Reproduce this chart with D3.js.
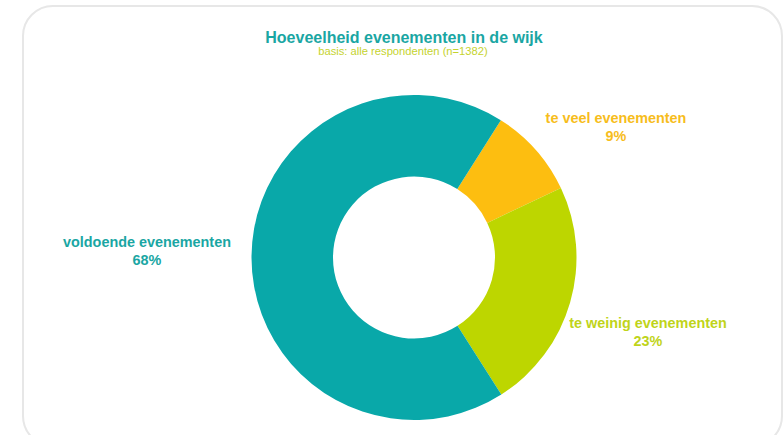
<!DOCTYPE html>
<html>
<head>
<meta charset="utf-8">
<script src="https://cdn.jsdelivr.net/npm/d3@7"></script>
<style>
  html, body { margin: 0; padding: 0; background: #fff; }
  svg { display: block; font-family: "Liberation Sans", Arial, sans-serif; }
</style>
</head>
<body>
<div class="container"></div>
<script>
// DATA
const categories = ["te veel evenementen", "te weinig evenementen", "voldoende evenementen"];
const values = [9, 23, 68];
const colors = ["#fdbe10", "#bdd600", "#09a8a9"];
const textColors = ["#f7bd1c", "#bfd41a", "#1aa6a3"];
// label anchor (centre of label block) per slice
const labelPos = [[616, 123], [648, 328], [147, 247]];

const title = "Hoeveelheid evenementen in de wijk";
const subtitle = "basis: alle respondenten (n=1382)";

const width = 784;
const height = 435;

const svg = d3.select(".container")
  .append("svg")
  .attr("width", width)
  .attr("height", height);

// rounded frame
svg.append("rect")
  .attr("x", 23)
  .attr("y", 6)
  .attr("width", 759)
  .attr("height", 440)
  .attr("rx", 30)
  .attr("fill", "#fff")
  .attr("stroke", "#e7e7e7")
  .attr("stroke-width", 2);

// titles
svg.append("text")
  .attr("x", 404)
  .attr("y", 43)
  .attr("text-anchor", "middle")
  .attr("font-size", 16)
  .attr("font-weight", "bold")
  .attr("fill", "#1aa6a3")
  .text(title);

svg.append("text")
  .attr("x", 403)
  .attr("y", 55)
  .attr("text-anchor", "middle")
  .attr("font-size", 11.2)
  .attr("fill", "#c5d32e")
  .text(subtitle);

// donut
const cx = 414, cy = 257.5;
const outerR = 162.5, innerR = 81;

const pie = d3.pie()
  .sort(null)
  .startAngle(32.3 * Math.PI / 180)
  .endAngle((32.3 + 360) * Math.PI / 180);

const arc = d3.arc()
  .innerRadius(innerR)
  .outerRadius(outerR);

const arcs = pie(values);

const g = svg.append("g").attr("transform", `translate(${cx},${cy})`);

g.selectAll("path")
  .data(arcs)
  .enter()
  .append("path")
  .attr("d", arc)
  .attr("fill", (d, i) => colors[i]);

// labels
const labels = svg.selectAll("g.label")
  .data(arcs)
  .enter()
  .append("text")
  .attr("class", "label")
  .attr("text-anchor", "middle")
  .attr("font-size", 14.4)
  .attr("font-weight", "bold")
  .attr("fill", (d, i) => textColors[i]);

labels.append("tspan")
  .attr("x", (d, i) => labelPos[i][0])
  .attr("y", (d, i) => labelPos[i][1])
  .text((d, i) => categories[i]);

labels.append("tspan")
  .attr("x", (d, i) => labelPos[i][0])
  .attr("y", (d, i) => labelPos[i][1] + 18)
  .text(d => d.data + "%");
</script>
</body>
</html>
